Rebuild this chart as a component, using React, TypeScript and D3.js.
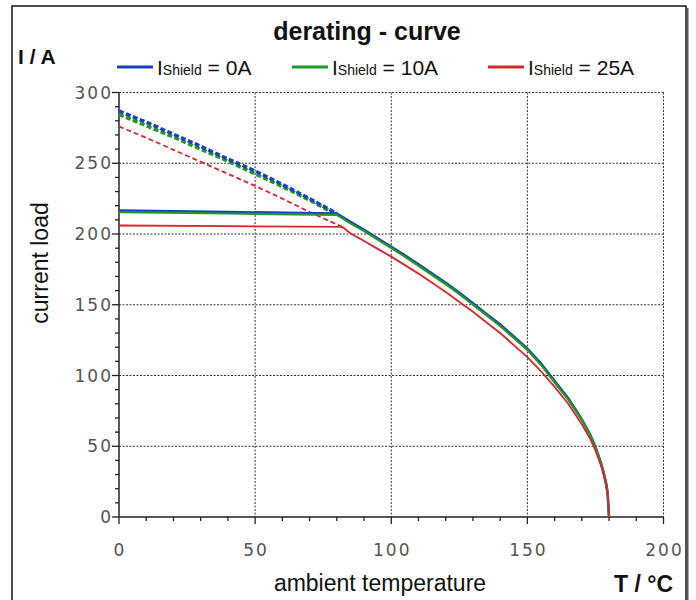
import React from "react";
import * as d3 from "d3";

// ---- data ----
const xTicks = [0, 50, 100, 150, 200];
const yTicks = [0, 50, 100, 150, 200, 250, 300];

// flat (limited) parts
const blueFlatT = [0, 40, 80];
const blueFlatI = [216.5, 215.5, 214.5];
const greenFlatT = [0, 40, 80];
const greenFlatI = [215.5, 214.5, 213.5];
const redFlatT = [0, 40, 82];
const redFlatI = [206, 205.5, 205];

// derating curve parts
const curveT = [85, 90, 95, 100, 105, 110, 115, 120, 125, 130, 135, 140, 145, 150, 155, 160, 165, 170, 173, 175, 177, 178, 179, 179.5, 180];
const blueCurveI = [208.5, 203, 197, 191, 185, 178.5, 172, 165.5, 158.5, 151, 143.5, 136, 127.5, 119, 108.5, 96, 84, 69, 58.5, 49.5, 38.5, 31.5, 23, 16.5, 0];
const greenCurveI = [207.5, 202, 196, 190, 184, 177.5, 171, 164.5, 157.5, 150, 142.5, 135, 126.5, 118, 107.5, 95, 83, 68.5, 58, 49, 38, 31, 22.5, 16, 0];
const redCurveI = [200.5, 195, 189.5, 184, 178, 172, 165.5, 159, 152, 145, 137.5, 130, 121.5, 113, 103, 92, 80, 65.5, 55.5, 47, 36.5, 30, 21.5, 15.5, 0];

// dashed (unlimited) parts
const blueDashT = [0, 10, 20, 30, 40, 50, 60, 70, 80];
const blueDashI = [287, 279, 270.5, 262, 253, 244.5, 235, 225, 214.5];
const greenDashT = [0, 10, 20, 30, 40, 50, 60, 70, 80];
const greenDashI = [284.5, 276.5, 268.5, 260, 251.5, 242.5, 233.5, 224, 213.5];
const redDashT = [0, 10, 20, 30, 40, 50, 60, 70, 82];
const redDashI = [276, 268, 259.5, 251, 242.5, 234, 225, 215.5, 205];

const legendLabels = ["0A", "10A", "25A"];

const BLUE = "#1d3fc2";
const GREEN = "#1f9a22";
const RED = "#d6282a";

const W = 696;
const H = 600;
const L = 119;
const R = 663.5;
const T = 92.5;
const B = 517;

export default function App() {
  const x = d3.scaleLinear().domain([0, 200]).range([L, R]);
  const y = d3.scaleLinear().domain([0, 300]).range([B, T]);
  const line = d3
    .line<[number, number]>()
    .x((d) => x(d[0]))
    .y((d) => y(d[1]));

  const zip = (ts: number[], is: number[]) => ts.map((t, i) => [t, is[i]] as [number, number]);

  const blueSolid = [...zip(blueFlatT, blueFlatI), ...zip(curveT, blueCurveI)];
  const greenSolid = [...zip(greenFlatT, greenFlatI), ...zip(curveT, greenCurveI)];
  const redSolid = [...zip(redFlatT, redFlatI), ...zip(curveT, redCurveI)];

  const minorX = d3.range(0, 201, 10);
  const minorY = d3.range(0, 301, 10);

  const font = "'Liberation Sans', Arial, sans-serif";
  const tickFont = "'DejaVu Sans', Verdana, sans-serif";

  const legendX = [117, 292, 488];
  const colors = [BLUE, GREEN, RED];

  return (
    <svg
      width={W}
      height={H}
      style={{ position: "absolute", left: 0, top: 0, background: "#fff" }}
    >
      {/* frame */}
      <rect x={12} y={6} width={674} height={610} fill="none" stroke="#222" strokeWidth={1.6} />
      <line x1={687.5} y1={8} x2={687.5} y2={600} stroke="#555" strokeWidth={2} />

      {/* title */}
      <text x={367} y={40} textAnchor="middle" fontFamily={font} fontWeight="bold" fontSize={25} fill="#111">
        derating - curve
      </text>
      <text x={18} y={64} fontFamily={font} fontWeight="bold" fontSize={21} fill="#111">
        I / A
      </text>

      {/* legend */}
      {legendLabels.map((lab, i) => (
        <g key={lab}>
          <line x1={legendX[i]} x2={legendX[i] + 36} y1={67} y2={67} stroke={colors[i]} strokeWidth={3} />
          <text x={legendX[i] + 40} y={75} fontFamily={font} fontSize={21} fill="#111">
            I
            <tspan fontSize={14}>Shield</tspan>
            <tspan> = {lab}</tspan>
          </text>
        </g>
      ))}

      {/* grid */}
      {xTicks.filter((t) => t > 0).map((t) => (
        <line key={"gx" + t} x1={x(t)} x2={x(t)} y1={T} y2={B} stroke="#333" strokeWidth={1} strokeDasharray="2,1.5" />
      ))}
      {yTicks.filter((t) => t > 0).map((t) => (
        <line key={"gy" + t} x1={L} x2={R} y1={y(t)} y2={y(t)} stroke="#333" strokeWidth={1} strokeDasharray="2,1.5" />
      ))}

      {/* axes */}
      <line x1={L} x2={L} y1={T} y2={B} stroke="#222" strokeWidth={1.5} />
      <line x1={L} x2={R} y1={B} y2={B} stroke="#222" strokeWidth={1.5} />
      {minorY.map((t) => (
        <line key={"ty" + t} x1={L - (t % 50 === 0 ? 7 : 4)} x2={L} y1={y(t)} y2={y(t)} stroke="#222" strokeWidth={1.3} />
      ))}
      {minorX.map((t) => (
        <line key={"tx" + t} x1={x(t)} x2={x(t)} y1={B} y2={B + (t % 50 === 0 ? 7 : 4)} stroke="#222" strokeWidth={1.3} />
      ))}

      {/* tick labels */}
      {yTicks.map((t) => (
        <text key={"ly" + t} x={L - 6} y={y(t) + 6} textAnchor="end" fontFamily={tickFont} fontSize={17} letterSpacing={2} fill="#555">
          {t}
        </text>
      ))}
      {xTicks.map((t) => (
        <text key={"lx" + t} x={x(t) + 1} y={y(0) + 39} textAnchor="middle" fontFamily={tickFont} fontSize={17} letterSpacing={2} fill="#555">
          {t}
        </text>
      ))}

      {/* axis titles */}
      <text transform={`translate(48,263) rotate(-90)`} textAnchor="middle" fontFamily={font} fontSize={23} fill="#111">
        current load
      </text>
      <text x={380} y={591} textAnchor="middle" fontFamily={font} fontSize={23} fill="#111">
        ambient temperature
      </text>
      <text x={673} y={592} textAnchor="end" fontFamily={font} fontWeight="bold" fontSize={23} fill="#111">
        T / °C
      </text>

      {/* dashed (unlimited) */}
      <path d={line(zip(redDashT, redDashI)) || ""} fill="none" stroke={RED} strokeWidth={1.8} strokeDasharray="5,3" />
      <path d={line(zip(greenDashT, greenDashI)) || ""} fill="none" stroke={GREEN} strokeWidth={3.5} strokeDasharray="5,2.5" />
      <path d={line(zip(blueDashT, blueDashI)) || ""} fill="none" stroke={BLUE} strokeWidth={3.5} strokeDasharray="5,2.5" />

      {/* solid */}
      <path d={line(blueSolid) || ""} fill="none" stroke={BLUE} strokeWidth={2.6} />
      <path d={line(greenSolid) || ""} fill="none" stroke={GREEN} strokeWidth={2.2} />
      <path d={line(redSolid) || ""} fill="none" stroke={RED} strokeWidth={1.8} />
    </svg>
  );
}
